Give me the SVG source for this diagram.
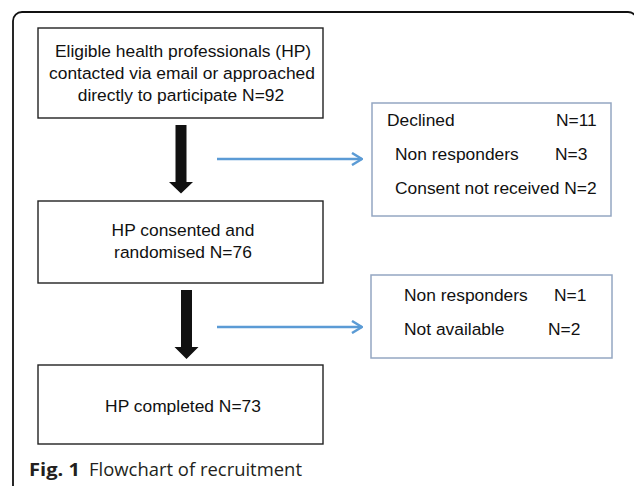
<svg xmlns="http://www.w3.org/2000/svg" width="634" height="486" viewBox="0 0 634 486">
<style>
.box{fill:#fff;stroke:#222;stroke-width:1.4}
.side{fill:#fff;stroke:#94a7c2;stroke-width:1.5}
.t{font-family:"Liberation Sans",Arial,sans-serif;font-size:17.4px;fill:#111}
.c{text-anchor:middle}
.blue{stroke:#5b9bd5;stroke-width:2.5;fill:none}
.cap{font-family:"Open Sans","Noto Sans",sans-serif;font-size:18.5px;fill:#231f20}
</style>
<defs>
<marker id="chev" viewBox="0 0 12 14" refX="11" refY="7" markerWidth="12" markerHeight="14" markerUnits="userSpaceOnUse" orient="auto">
<path d="M1 1 L11 7 L1 13" fill="none" stroke="#5b9bd5" stroke-width="2.5"/>
</marker>
</defs>
<rect x="13" y="12" width="624" height="500" rx="9" fill="#fff" stroke="#111" stroke-width="1.8"/>
<g id="n1">
<rect class="box" x="38" y="28" width="285" height="90"/>
<text class="t c" x="183" y="57">Eligible health professionals (HP)</text>
<text class="t c" x="182" y="79">contacted via email or approached</text>
<text class="t c" x="181" y="101">directly to participate N=92</text>
</g>
<g id="n2">
<rect class="box" x="38" y="201" width="285" height="82"/>
<text class="t c" x="183" y="236">HP consented and</text>
<text class="t c" x="183" y="258">randomised N=76</text>
</g>
<g id="n3">
<rect class="box" x="38" y="365" width="285" height="79"/>
<text class="t c" x="183" y="412">HP completed N=73</text>
</g>
<g id="x1">
<rect class="side" x="372" y="103" width="239" height="113"/>
<text class="t" x="387" y="126">Declined</text>
<text class="t" x="556" y="126">N=11</text>
<text class="t" x="395" y="160">Non responders</text>
<text class="t" x="555" y="160">N=3</text>
<text class="t" x="395" y="194">Consent not received N=2</text>
</g>
<g id="x2">
<rect class="side" x="371" y="275" width="241" height="83"/>
<text class="t" x="404" y="301">Non responders</text>
<text class="t" x="554" y="301">N=1</text>
<text class="t" x="404" y="335">Not available</text>
<text class="t" x="548" y="335">N=2</text>
</g>
<g id="connectors">
<path d="M175.5 125 H186.5 V182 H193 L181 193.5 L169 182 H175.5 Z" fill="#111"/>
<path d="M181 290 H192 V347 H198.5 L186.5 359 L174.5 347 H181 Z" fill="#111"/>
<line class="blue" x1="217" y1="159" x2="362" y2="159" marker-end="url(#chev)"/>
<line class="blue" x1="217" y1="327" x2="362" y2="327" marker-end="url(#chev)"/>
</g>
<text class="cap" x="29" y="476" font-weight="bold" textLength="51" lengthAdjust="spacingAndGlyphs">Fig. 1</text>
<text class="cap" x="89" y="476" textLength="213" lengthAdjust="spacingAndGlyphs">Flowchart of recruitment</text>
</svg>
